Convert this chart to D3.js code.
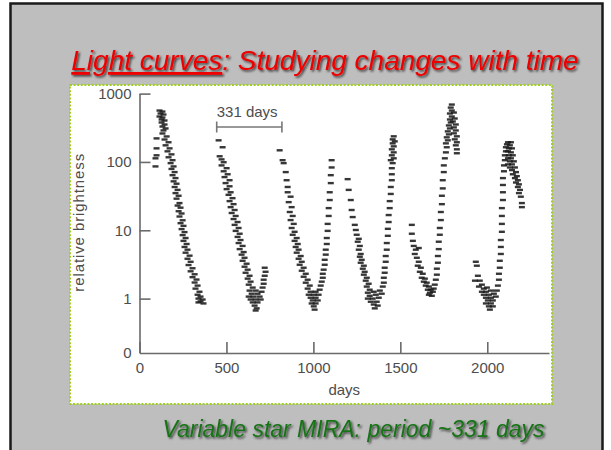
<!DOCTYPE html>
<html>
<head>
<meta charset="utf-8">
<script src="https://cdn.jsdelivr.net/npm/d3@7"></script>
<style>
	body{margin:0;background:#fff}
	svg{display:block}
	text{font-family:"Liberation Sans", Arial, Helvetica, sans-serif}
</style>
</head>
<body>
<div id="chart"></div>
<script>
var cycle1=[[115,565],[132,546],[121,511],[138,494],[115,462],[132,447],[127,418],[144,404],[127,378],[144,353],[132,330],[150,309],[138,289],
	[98,221],[98,158],[98,125],[92,113],[92,86],
	[132,261],[156,236],[144,213],[167,194],[150,175],[173,158],[161,143],[184,129],[167,117],[190,106],[179,96],[196,86],[184,79],[202,71],
	[190,64],[207,58],[196,52],[213,48],[202,43],[219,39],[207,35],[225,32],[213,29],[230,25],[219,23],[236,21.4],[225,19],[242,17.6],
	[230,15.9],[248,14],[236,12.7],[253,11.6],[242,10.4],[259,9.4],[248,8.5],[265,7.7],[253,7.0],[271,6.3],[259,5.7],[276,5.2],[265,4.7],
	[288,4.25],[276,3.83],[294,3.46],[282,3.1],[305,2.78],[294,2.51],[317,2.27],[305,2.06],[328,1.9],[317,1.72],[334,1.55],[322,1.40],
	[345,1.26],[334,1.14],[351,1.07],[339,1.0],[363,0.97],[351,0.91],[368,0.85],[339,0.88]]
var cycle2=[[455,207],[478,164],[461,121],[472,109],[484,99],
	[472,89],[501,81],[484,73],[507,66],[489,60],[518,54],[495,49],[518,44],[501,40],[524,36],[512,33],[535,29.5],[518,26.7],[541,24.1],
	[524,21.8],[547,19.8],[530,17.9],[553,16.2],[541,14.6],[564,13.2],[547,12.0],[570,10.8],[553,9.8],[576,8.9],[564,8.0],[581,7.2],
	[570,6.5],[593,5.9],[576,5.3],[599,4.8],[587,4.4],[604,3.96],[593,3.58],[616,3.24],[604,2.93],[622,2.65],[610,2.39],[633,2.16],
	[622,1.96],[639,1.77],[628,1.60],[651,1.45],
	[633,1.31],[668,1.31],[645,1.18],[679,1.18],[628,1.07],[656,1.07],[691,1.07],[639,0.97],[668,0.97],[697,0.97],[651,0.88],[679,0.88],
	[662,0.79],[674,0.72],[668,0.67],
	[702,1.26],[708,1.45],[714,1.65],[714,1.89],[720,2.16],[725,2.47],[720,2.83]]
var cycle3=[[806,148],[823,106],[829,96],[841,71],[846,54],[852,43],
	[852,36],[869,31],[858,25.8],[875,21.8],[864,18.5],[881,16.2],[869,14.1],[887,12.4],[875,10.8],[892,9.5],[881,8.6],[904,7.7],[892,7.0],
	[910,6.3],[898,5.7],[915,5.2],[904,4.7],[927,4.2],[915,3.83],[933,3.46],[921,3.13],[944,2.83],[933,2.56],[956,2.31],[944,2.09],
	[967,1.89],[956,1.71],[979,1.55],[967,1.40],
	[984,1.26],[1013,1.26],[973,1.14],[1002,1.14],[1030,1.14],[984,1.03],[1013,1.03],[996,0.94],[1025,0.94],[990,0.85],[1013,0.85],
	[1002,0.77],[1007,0.69],
	[1036,1.35],[1042,1.55],[1048,1.77],[1054,2.02],[1054,2.31],[1059,2.65],[1065,3.13],[1065,3.70],[1071,4.4],[1071,5.2],[1077,6.3],
	[1077,7.7],[1082,9.8],[1082,12.4],[1088,16.2],[1088,21.1],[1094,27.7],[1094,36],[1100,49],[1100,64],[1105,83],[1105,106]]
var cycle4=[[1197,56],[1203,39],[1215,27.7],[1220,19.8],[1226,15.6],[1238,12.0],[1244,10.1],[1249,8.6],[1261,7.5],[1255,6.8],[1267,5.9],
	[1261,5.2],[1272,4.5],[1267,4.1],[1278,3.70],[1272,3.35],[1290,3.03],[1284,2.74],[1295,2.47],[1290,2.24],[1307,2.02],[1301,1.83],
	[1318,1.65],[1307,1.50],[1324,1.35],
	[1313,1.22],[1347,1.26],[1382,1.31],[1324,1.10],[1359,1.14],[1393,1.18],[1313,1.0],[1341,1.0],[1376,1.03],[1330,0.90],[1364,0.90],
	[1347,0.82],[1370,0.79],[1353,0.72],
	[1399,1.50],[1405,1.71],[1405,2.02],[1410,2.39],[1410,2.83],[1416,3.46],[1416,4.2],[1422,5.2],[1422,6.5],[1428,8.3],[1428,10.5],
	[1433,13.2],[1433,16.7],[1439,21.1],[1439,26.7],[1445,34],[1445,43],[1451,54],[1451,66],[1451,81],[1456,96],[1445,106],[1462,113],
	[1451,125],[1462,138],[1451,153],[1462,169],[1456,187],[1468,200],[1456,214],[1462,237]]
var cycle5=[[1566,12.0],[1566,8.9],[1572,7.0],[1577,5.9],[1589,5.2],[1583,4.5],[1606,5.5],[1595,3.96],[1606,3.46],[1600,3.03],[1618,2.83],
	[1612,2.47],[1629,2.31],[1623,2.02],[1641,1.96],[1635,1.77],[1652,1.71],[1646,1.55],[1664,1.50],[1658,1.35],[1675,1.35],[1670,1.22],
	[1687,1.26],[1681,1.10],[1664,1.14],[1692,1.40],
	[1698,1.60],[1704,1.89],[1710,2.24],[1710,2.74],[1716,3.35],[1716,4.2],[1721,5.3],[1721,6.8],[1727,8.6],[1727,10.8],[1733,14.1],
	[1733,18.5],[1739,24.1],[1739,32],[1744,41],[1744,54],[1750,71],[1750,89],[1756,113],[1762,138],[1767,164],[1762,187],[1773,207],
	[1767,229],[1779,253],[1773,280],[1785,309],[1779,342],[1790,378],[1785,418],[1796,462],[1785,511],[1796,565],[1790,624],[1796,691],
	[1808,528],[1813,432],[1802,391],[1819,353],[1808,320],[1819,289],[1808,262],[1825,237],[1813,214],[1825,194],[1819,175],[1825,153],[1825,134]]
var cycle6=[[1934,3.46],[1940,3.03],[1946,2.16],[1929,1.83],[1957,1.83],[1969,1.60],[1952,1.50],[1980,1.40],[1998,1.45],[1969,1.26],
	[1992,1.26],[2021,1.31],[1980,1.14],[2009,1.14],[2038,1.18],[1992,1.03],[2021,1.03],[2049,1.07],[2003,0.94],[2032,0.94],[1992,0.85],
	[2021,0.85],[2009,0.77],[2032,0.77],[2015,0.69],
	[2055,1.31],[2061,1.55],[2067,1.89],[2067,2.31],[2072,2.83],[2072,3.58],[2078,4.5],[2078,5.7],[2078,7.2],[2084,9.5],[2084,12.4],
	[2084,16.2],[2084,21.1],[2090,27.7],[2090,36],[2090,46],[2090,58],[2096,73],[2096,89],[2101,106],[2101,125],[2107,143],[2107,164],
	[2113,181],[2119,194],[2136,194],
	[2130,175],[2124,158],[2142,158],[2119,143],[2136,138],[2124,125],[2147,125],[2119,113],[2136,113],[2130,102],[2153,102],[2119,92],
	[2142,92],[2130,83],[2159,83],[2142,76],[2165,71],[2147,66],[2170,62],[2159,58],[2176,54],[2165,50],[2182,47],[2176,43],[2188,39],
	[2182,35],[2193,31],[2199,25],[2199,21.8]]

var xTicks=[0,500,1000,1500,2000]
var yTicks=[0.16,1,10,100,1000]   // lowest tick is the "0" the original draws at the corner
var yTickLabels=['0','1','10','100','1000']
var bracketDays=[444,819]
var bracketLabel='331 days'
var titleMain='Light curves'
var titleRest=': Studying changes with time'
var captionText='Variable star MIRA: period ~331 days'

var W=611, H=450
var plot={left:139.5, right:549, top:93.6, bottom:353}

var svg=d3.select('#chart').append('svg')
	.attr('width', W)
	.attr('height', H)

var defs=svg.append('defs')
defs.append('filter').attr('id','shadow')
	.attr('x','-5%').attr('y','-20%').attr('width','110%').attr('height','150%')
	.append('feDropShadow')
	.attr('dx',1.6).attr('dy',1.6).attr('stdDeviation',0.9)
	.attr('flood-color','#000').attr('flood-opacity',0.7)

// slide background
svg.append('rect')
	.attr('x',10.5).attr('y',3.5)
	.attr('width',592).attr('height',470)
	.attr('fill','#bebebe')
	.attr('stroke','#1a1a1a')
	.attr('stroke-width',2.5)

// title
var title=svg.append('text')
	.attr('x',325).attr('y',70)
	.attr('text-anchor','middle')
	.attr('font-size',28)
	.attr('font-style','italic')
	.attr('fill','#ee0000')
	.attr('filter','url(#shadow)')
title.append('tspan').attr('text-decoration','underline').text(titleMain)
title.append('tspan').text(titleRest)

// white panel with dotted green frame
svg.append('rect')
	.attr('x',70).attr('y',85)
	.attr('width',482).attr('height',319)
	.attr('fill','#fff')
	.attr('stroke','#9fcf1f')
	.attr('stroke-width',2)
	.attr('stroke-dasharray','2,1.6')

var x=d3.scaleLinear().domain([0,2355]).range([plot.left, plot.right])
var y=d3.scaleLog().domain([0.16,1000]).range([plot.bottom, plot.top])

var axisColor='#6a6a6a', labelColor='#4d4d4d'

var xAxis=svg.append('g')
	.attr('transform','translate(0,'+plot.bottom+')')
	.call(d3.axisBottom(x).tickValues(xTicks).tickSize(-11).tickSizeOuter(0).tickPadding(9.5)
		.tickFormat(d3.format('d')))
var yAxis=svg.append('g')
	.attr('transform','translate('+plot.left+',0)')
	.call(d3.axisLeft(y).tickValues(yTicks).tickSize(-11).tickSizeOuter(0).tickPadding(8)
		.tickFormat(function(d,i){ return yTickLabels[i] }))

;[xAxis,yAxis].forEach(function(g){
	g.selectAll('path').attr('stroke',axisColor).attr('stroke-width',1.6)
	g.selectAll('line').attr('stroke',axisColor).attr('stroke-width',1.6)
	g.selectAll('text').attr('fill',labelColor).attr('font-size',15)
		.attr('font-family','"Liberation Sans", Arial, Helvetica, sans-serif')
})
yAxis.selectAll('.tick').filter(function(d){ return d===yTicks[0] }).select('line').remove()

svg.append('text')
	.attr('x',(plot.left+plot.right)/2).attr('y',395)
	.attr('text-anchor','middle')
	.attr('font-size',15)
	.attr('fill',labelColor)
	.text('days')

svg.append('text')
	.attr('transform','translate(84,'+((y(1)+y(100))/2-8)+') rotate(-90)')
	.attr('text-anchor','middle')
	.attr('font-size',15)
	.attr('letter-spacing',0.9)
	.attr('fill',labelColor)
	.text('relative brightness')

// period bracket
var bY=127
var bracket=svg.append('g').attr('stroke','#777').attr('stroke-width',1.6)
bracket.append('line').attr('x1',x(bracketDays[0])).attr('x2',x(bracketDays[1])).attr('y1',bY).attr('y2',bY)
bracketDays.forEach(function(d){
	bracket.append('line').attr('x1',x(d)).attr('x2',x(d)).attr('y1',bY-5.5).attr('y2',bY+5.5)
})
svg.append('text')
	.attr('x',x(bracketDays[0])).attr('y',117)
	.attr('font-size',15)
	.attr('fill',labelColor)
	.text(bracketLabel)

// observations, drawn as short horizontal dashes like the scanned plot
var observations=cycle1.concat(cycle2,cycle3,cycle4,cycle5,cycle6)
svg.append('g').selectAll('rect')
	.data(observations)
	.enter().append('rect')
	.attr('x',function(d){ return x(d[0])-3 })
	.attr('y',function(d){ return y(d[1])-1.2 })
	.attr('width',6)
	.attr('height',2.4)
	.attr('fill','#1a1a1a')
	.attr('opacity',0.88)

// caption
svg.append('text')
	.attr('x',353.5).attr('y',437)
	.attr('text-anchor','middle')
	.attr('font-size',23)
	.attr('font-style','italic')
	.attr('fill','#177317')
	.attr('filter','url(#shadow)')
	.text(captionText)
</script>
</body>
</html>
